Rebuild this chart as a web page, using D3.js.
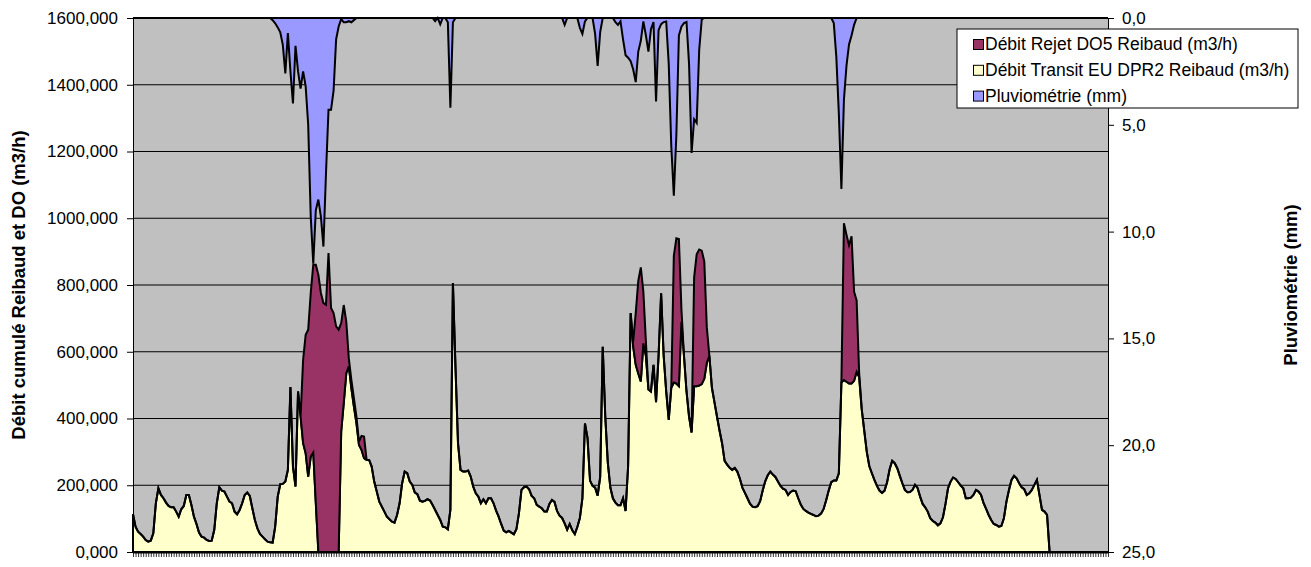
<!DOCTYPE html>
<html>
<head>
<meta charset="utf-8">
<script src="https://cdn.jsdelivr.net/npm/d3@7"></script>
<style>
  body { margin: 0; background: #fff; }
  .chart { width: 1311px; height: 567px; }
</style>
</head>
<body>
<div class="chart"></div>
<script>
// hourly values, one per category tick
var transit = [
  113,76,61,54,46,36,31,34,56,146,191,171,161,148,138,134,134,121,106,128,
  138,171,171,141,106,84,58,46,43,36,33,34,66,146,194,184,181,166,151,146,
  121,113,126,146,171,178,168,131,96,71,54,46,38,31,29,28,76,166,203,204,
  211,246,494,256,196,481,406,326,296,226,286,298,146,0,0,0,0,0,0,0,
  0,0,361,446,536,556,491,436,386,321,306,281,276,276,256,211,181,151,136,121,
  106,98,91,88,111,146,206,241,236,211,201,178,173,154,151,153,158,154,141,126,
  111,96,76,74,68,126,806,556,326,246,241,241,244,226,196,176,166,146,158,146,
  161,161,146,124,106,84,64,59,63,58,53,68,116,186,194,196,188,168,161,141,
  136,131,121,121,144,156,150,123,109,102,86,67,84,65,54,75,102,161,385,342,
  214,198,193,169,225,615,406,268,193,161,148,140,140,161,123,257,716,615,561,535,
  511,625,588,487,481,561,449,588,775,588,481,396,492,508,505,497,690,588,481,406,
  358,497,497,499,503,519,567,588,492,449,406,364,326,273,262,252,246,252,241,220,
  193,177,161,145,136,134,137,152,184,212,230,241,232,225,211,198,190,186,171,180,
  184,182,161,142,129,123,118,114,111,107,109,115,129,155,184,209,214,214,236,508,
  515,510,505,505,513,540,524,428,364,300,257,236,216,198,184,177,184,209,248,273,
  266,251,228,206,186,179,180,186,201,192,166,144,134,121,101,93,88,80,86,104,
  144,191,211,223,219,209,199,191,161,161,163,171,186,181,171,146,129,111,96,84,
  81,76,78,101,151,186,216,228,221,206,194,188,171,176,186,201,216,171,126,121,
  111,0,0,0,0,0,0,0,0,0,0,0,0,0,0,0,0,0,0,0,
  0,0,0,0,0
];

var rejet = [
  0,0,0,0,0,0,0,0,0,0,0,0,0,0,0,0,0,0,0,0,
  0,0,0,0,0,0,0,0,0,0,0,0,0,0,0,0,0,0,0,0,
  0,0,0,0,0,0,0,0,0,0,0,0,0,0,0,0,0,0,0,0,
  0,0,0,0,0,0,0,250,355,440,490,563,715,831,776,746,741,896,731,716,
  676,666,325,294,154,24,25,25,20,10,42,65,0,0,0,0,0,0,0,0,
  0,0,0,0,0,0,0,0,0,0,0,0,0,0,0,0,0,0,0,0,
  0,0,0,0,0,0,0,0,0,0,0,0,0,0,0,0,0,0,0,0,
  0,0,0,0,0,0,0,0,0,0,0,0,0,0,0,0,0,0,0,0,
  0,0,0,0,0,0,0,0,0,0,0,0,0,0,0,0,0,0,0,0,
  0,0,0,0,0,0,0,0,0,0,0,0,0,0,0,0,0,16,155,277,
  342,155,43,0,0,0,0,0,0,0,0,0,0,379,435,441,37,0,0,0,
  0,326,395,407,400,352,106,0,0,0,0,0,0,0,0,0,0,0,0,0,
  0,0,0,0,0,0,0,0,0,0,0,0,0,0,0,0,0,0,0,0,
  0,0,0,0,0,0,0,0,0,0,0,0,0,0,0,0,0,0,0,0,
  470,441,414,441,267,214,11,0,0,0,0,0,0,0,0,0,0,0,0,0,
  0,0,0,0,0,0,0,0,0,0,0,0,0,0,0,0,0,0,0,0,
  0,0,0,0,0,0,0,0,0,0,0,0,0,0,0,0,0,0,0,0,
  0,0,0,0,0,0,0,0,0,0,0,0,0,0,0,0,0,0,0,0,
  0,0,0,0,0,0,0,0,0,0,0,0,0,0,0,0,0,0,0,0,
  0,0,0,0,0
];

var pluvio = [
  0,0,0,0,0,0,0,0,0,0,0,0,0,0,0,0,0,0,0,0,
  0,0,0,0,0,0,0,0,0,0,0,0,0,0,0,0,0,0,0,0,
  0,0,0,0,0,0,0,0,0,0,0,0,0,0,0,0.1,0.25,0.44,0.67,1.26,
  2.6,0.7,2.5,4.0,1.3,2.5,3.3,2.5,3.2,5.0,9.3,11.5,9.0,8.5,9.3,10.7,7.3,4.3,4.3,3.4,
  1.0,0.4,0.05,0.2,0.2,0.15,0.2,0.1,0,0,0,0,0,0,0,0,0,0,0,0,
  0,0,0,0,0,0,0,0,0,0,0,0,0,0,0,0,0,0,0,0.15,
  0,0.3,0,0,0.2,4.2,0.2,0,0,0,0,0,0,0,0,0,0,0,0,0,
  0,0,0,0,0,0,0,0,0,0,0,0,0,0,0,0,0,0,0,0,
  0,0,0,0,0,0,0,0,0,0,0.32,0,0,0,0,0,0.46,0.74,0.16,0,
  0,0,0.74,2.24,0.66,0,0,0,0,0,0.19,0.32,0.16,1.0,1.74,1.86,2.02,2.41,3.0,1.57,
  1.07,0.16,0.82,1.57,0.52,0.19,3.91,0.57,0.29,0.19,0.16,2.16,6.0,8.32,5.49,0.82,0.41,0.24,0.19,2.16,
  6.32,4.74,4.91,1.49,0.07,0,0,0,0,0,0,0,0,0,0,0,0,0,0,0,
  0,0,0,0,0,0,0,0,0,0,0,0,0,0,0,0,0,0,0,0,
  0,0,0,0,0,0,0,0,0,0,0,0,0,0,0,0,0.24,1.82,4.49,8.0,
  3.82,2.24,1.24,0.82,0.32,0,0,0,0,0,0,0,0,0,0,0,0,0,0,0,
  0,0,0,0,0,0,0,0,0,0,0,0,0,0,0,0,0,0,0,0,
  0,0,0,0,0,0,0,0,0,0,0,0,0,0,0,0,0,0,0,0,
  0,0,0,0,0,0,0,0,0,0,0,0,0,0,0,0,0,0,0,0,
  0,0,0,0,0,0,0,0,0,0,0,0,0,0,0,0,0,0,0,0,
  0,0,0,0,0
];

var hours = d3.range(transit.length);   // category index (hour)
var leftTicks = [0, 200, 400, 600, 800, 1000, 1200, 1400, 1600];
var rightTicks = [0, 5, 10, 15, 20, 25];
var legendNames = ["Débit Rejet DO5 Reibaud (m3/h)", "Débit Transit EU DPR2 Reibaud (m3/h)", "Pluviométrie (mm)"];
var legendColors = ["#993366", "#FFFFCC", "#9999FF"];
var leftTitle = "Débit cumulé Reibaud et DO (m3/h)";
var rightTitle = "Pluviométrie (mm)";

var FONT = "'Liberation Sans', Arial, sans-serif";

function drawChart() {
  var eleChart = d3.select(".chart").html(""),
      fullW = 1311, fullH = 567,
      margin = {top: 18, right: 203, bottom: 15, left: 133},
      width = fullW - margin.left - margin.right,
      height = fullH - margin.top - margin.bottom;

  var svg = eleChart.append("svg").attr("width", fullW).attr("height", fullH);

  var g = svg.append("g")
      .attr("transform", "translate(" + margin.left + "," + margin.top + ")");

  var x = d3.scalePoint().domain(hours).range([0, width]),
      y = d3.scaleLinear().domain([0, 1600]).range([height, 0]),
      y2 = d3.scaleLinear().domain([0, 25]).range([0, height]);

  var fr = d3.formatLocale({decimal: ",", thousands: "\u00a0", grouping: [3], currency: ["", ""]});

  // plot background + gridlines
  g.append("rect").attr("width", width).attr("height", height).attr("fill", "#C0C0C0");

  g.selectAll(".grid")
    .data(leftTicks.filter(function(t) { return t > 0 && t < 1600; }))
    .enter().append("line")
      .attr("class", "grid")
      .attr("x1", 0).attr("x2", width)
      .attr("y1", function(d) { return y(d); })
      .attr("y2", function(d) { return y(d); })
      .attr("stroke", "#000").attr("stroke-width", 1);

  // stacked flows
  var rows = hours.map(function(h, i) { return {hour: h, transit: transit[i], rejet: rejet[i]}; });
  var stacked = d3.stack().keys(["transit", "rejet"])(rows);
  var fills = {transit: "#FFFFCC", rejet: "#993366"};

  var area = d3.area()
      .x(function(d) { return x(d.data.hour); })
      .y0(function(d) { return y(d[0]); })
      .y1(function(d) { return y(d[1]); });

  g.selectAll(".flow")
    .data(stacked)
    .enter().append("path")
      .attr("class", "flow")
      .attr("d", area)
      .attr("fill", function(d) { return fills[d.key]; })
      .attr("stroke", "#000")
      .attr("stroke-width", 2)
      .attr("stroke-linejoin", "miter");

  // rain hanging from the top (secondary axis, reversed)
  var rainArea = d3.area()
      .x(function(d, i) { return x(hours[i]); })
      .y0(y2(0))
      .y1(function(d) { return y2(d); });

  g.append("path")
    .datum(pluvio)
    .attr("d", rainArea)
    .attr("fill", "#9999FF")
    .attr("stroke", "#000")
    .attr("stroke-width", 2);

  // axes
  var axX = g.append("g")
      .attr("transform", "translate(0," + height + ")")
      .call(d3.axisBottom(x).tickSize(5).tickSizeOuter(0).tickFormat(""));
  axX.selectAll("line").attr("stroke", "#000").attr("stroke-width", 0.8);
  axX.select(".domain").attr("stroke", "#000").attr("stroke-width", 2);

  var axL = g.append("g")
      .call(d3.axisLeft(y).tickValues(leftTicks).tickSize(6).tickSizeOuter(0).tickPadding(9)
        .tickFormat(fr.format(".3f")));
  var axR = g.append("g")
      .attr("transform", "translate(" + width + ",0)")
      .call(d3.axisRight(y2).tickValues(rightTicks).tickSize(6).tickSizeOuter(0).tickPadding(8)
        .tickFormat(fr.format(".1f")));

  [axL, axR].forEach(function(a) {
    a.attr("font-family", FONT).attr("font-size", 17);
    a.selectAll("text").attr("fill", "#000");
    a.selectAll("line").attr("stroke", "#000");
    a.select(".domain").attr("stroke", "#000");
  });

  // axis titles
  svg.append("text")
    .attr("transform", "translate(18," + (margin.top + height / 2) + ") rotate(-90)")
    .attr("text-anchor", "middle")
    .attr("dominant-baseline", "central")
    .attr("font-family", FONT).attr("font-size", 18.5).attr("font-weight", "bold")
    .text(leftTitle);

  svg.append("text")
    .attr("transform", "translate(1290," + (margin.top + height / 2) + ") rotate(-90)")
    .attr("text-anchor", "middle")
    .attr("dominant-baseline", "central")
    .attr("font-family", FONT).attr("font-size", 18.5).attr("font-weight", "bold")
    .text(rightTitle);

  // legend
  var lg = svg.append("g").attr("transform", "translate(957,29)");
  lg.append("rect").attr("width", 341).attr("height", 79)
    .attr("fill", "#fff").attr("stroke", "#000").attr("stroke-width", 1);

  var item = lg.selectAll(".item")
    .data(legendNames)
    .enter().append("g")
      .attr("class", "item")
      .attr("transform", function(d, i) { return "translate(0," + (15 + i * 25.8) + ")"; });

  item.append("rect")
    .attr("x", 16.5).attr("y", -4.5).attr("width", 10).attr("height", 10)
    .attr("fill", function(d, i) { return legendColors[i]; })
    .attr("stroke", "#000").attr("stroke-width", 1);

  item.append("text")
    .attr("x", 28).attr("y", 6)
    .attr("font-family", FONT).attr("font-size", 17.5)
    .text(function(d) { return d; });
}

drawChart();
</script>
</body>
</html>
